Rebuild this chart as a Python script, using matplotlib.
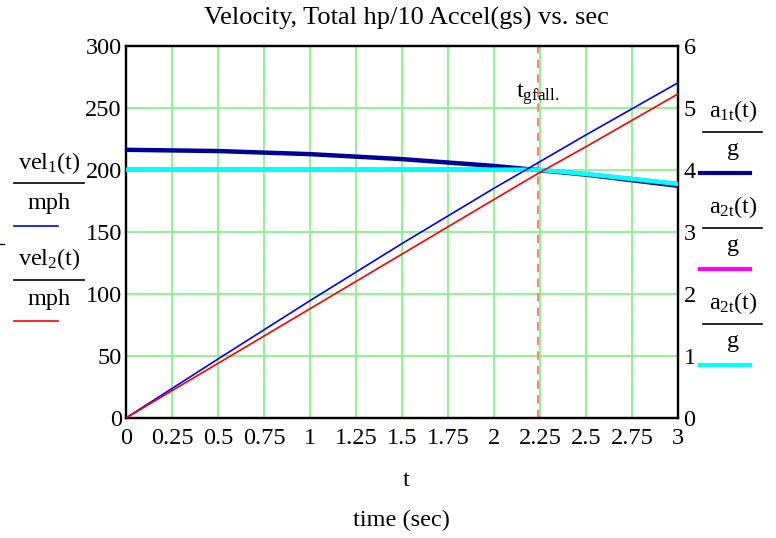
import matplotlib
matplotlib.use("Agg")
import matplotlib.pyplot as plt
from matplotlib.lines import Line2D

plt.rcParams['font.family'] = ['Liberation Serif', 'DejaVu Serif']
plt.rcParams['mathtext.fontset'] = 'custom'
plt.rcParams['mathtext.rm'] = 'Liberation Serif'
plt.rcParams['mathtext.it'] = 'Liberation Serif:italic'

# ---- data ----
t_vel = [0, 0.5, 1.0, 1.5, 2.0, 2.5, 3.0]
vel1_mph = [0, 47.5, 94.5, 140.5, 185, 228, 270]
vel2_t = [0, 0.5, 1.0, 1.5, 2.0, 2.24, 2.5, 3.0]
vel2_mph = [0, 44, 88, 132, 176, 197, 218.5, 261]

t_acc1 = [0, 0.5, 1.0, 1.5, 2.0, 2.5, 3.0]
a1_g = [4.32, 4.30, 4.25, 4.17, 4.06, 3.92, 3.74]
t_acc2 = [0, 0.5, 1.0, 1.5, 2.0, 2.24, 2.5, 2.75, 3.0]
a2_g = [4.0, 4.0, 4.0, 4.0, 4.0, 4.0, 3.93, 3.85, 3.77]

t_gfall = 2.24

x_ticks = [0, 0.25, 0.5, 0.75, 1, 1.25, 1.5, 1.75, 2, 2.25, 2.5, 2.75, 3]
x_labels = ["0", "0.25", "0.5", "0.75", "1", "1.25", "1.5", "1.75", "2", "2.25", "2.5", "2.75", "3"]
y_ticks = [0, 50, 100, 150, 200, 250, 300]
y2_ticks = [0, 1, 2, 3, 4, 5, 6]

FS = 17.5
W, H = 776, 538
fig = plt.figure(figsize=(W / 100, H / 100), dpi=100)
L, R, T, B = 126, 678, 45.5, 418
ax = fig.add_axes([L / W, 1 - B / H, (R - L) / W, (B - T) / H])
ax2 = ax.twinx()

grid_c = '#80f080'
ax.set_xlim(0, 3)
ax.set_ylim(0, 300)
ax2.set_ylim(0, 6)
for x in x_ticks[1:-1]:
    ax.axvline(x, color=grid_c, lw=1.2, zorder=0)
for y in y_ticks[1:-1]:
    ax.axhline(y, color=grid_c, lw=1.2, zorder=0)

ax.set_xticks(x_ticks)
ax.set_xticklabels(x_labels)
ax.set_yticks(y_ticks)
ax2.set_yticks(y2_ticks)
ax.tick_params(axis='x', length=0, labelsize=FS, pad=7)
ax.tick_params(axis='y', length=0, labelsize=FS, pad=3)
ax2.tick_params(length=0, labelsize=FS, pad=4)
for a in (ax, ax2):
    for s in a.spines.values():
        s.set_linewidth(1.6)

ax.axvline(t_gfall, color='#ff8080', lw=1.5, ls=(0, (4, 3)), zorder=1)
ax.text(t_gfall - 0.005, 261, r't$_{\mathrm{gfall.}}$', fontsize=FS, ha='center', va='center')

ax2.plot(t_acc2, a2_g, color='#ff00ff', lw=3, zorder=2)
ax2.plot(t_acc1, a1_g, color='#000099', lw=3.2, zorder=3)
ax2.plot(t_acc2, a2_g, color='#00ffff', lw=3.2, zorder=4)
ax2.plot(t_vel, [v / 50 for v in vel1_mph], color='#0000ff', lw=1.2, zorder=5)
ax2.plot(vel2_t, [v / 50 for v in vel2_mph], color='#ff0000', lw=1.2, zorder=5)

fig.text(406 / W, 1 - 18 / H, 'Velocity, Total hp/10 Accel(gs) vs. sec', fontsize=19,
         ha='center', va='center')
fig.text(406 / W, 1 - 481 / H, 't', fontsize=FS, ha='center', va='center')
fig.text(401 / W, 1 - 520 / H, 'time (sec)', fontsize=FS, ha='center', va='center')

def fx(x):
    return x / W

def fy(y):
    return 1 - y / H

def hline(x0, x1, y, c, lw):
    fig.add_artist(Line2D([fx(x0), fx(x1)], [fy(y), fy(y)], color=c, lw=lw, transform=fig.transFigure))

# left legend
fig.text(fx(49), fy(163), r'vel$_1$(t)', fontsize=FS, ha='center', va='center')
hline(14, 84, 183, 'black', 1.2)
fig.text(fx(49), fy(204), 'mph', fontsize=FS, ha='center', va='center')
hline(14, 58, 226, '#0000ff', 1.2)
hline(0, 4, 244, 'black', 1.0)
fig.text(fx(49), fy(259), r'vel$_2$(t)', fontsize=FS, ha='center', va='center')
hline(14, 84, 280, 'black', 1.2)
fig.text(fx(49), fy(300), 'mph', fontsize=FS, ha='center', va='center')
hline(14, 58, 321, '#ff0000', 1.2)

# right legend
items = [(111, '#000099', r'a$_{\mathrm{1t}}$(t)'),
         (207, '#ff00ff', r'a$_{\mathrm{2t}}$(t)'),
         (303, '#00ffff', r'a$_{\mathrm{2t}}$(t)')]
for y0, c, lab in items:
    fig.text(fx(733), fy(y0), lab, fontsize=FS, ha='center', va='center')
    hline(703, 762, y0 + 21, 'black', 1.2)
    fig.text(fx(733), fy(y0 + 39), 'g', fontsize=FS, ha='center', va='center')
    hline(700, 750, y0 + 62, c, 3)

fig.savefig('out.png', dpi=100)
